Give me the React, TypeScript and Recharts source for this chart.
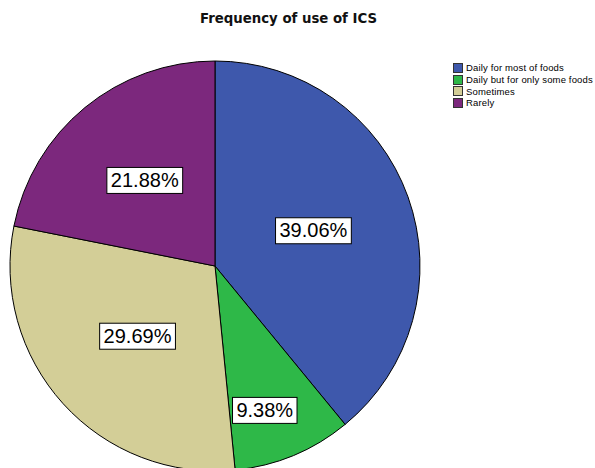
import { Cell, Pie, PieChart } from 'recharts';

const CATEGORIES = ['Daily for most of foods', 'Daily but for only some foods', 'Sometimes', 'Rarely'];
const PERCENTS = [39.06, 9.38, 29.69, 21.88];
const COLORS = ['#3e58ac', '#2eb848', '#d3ce97', '#7c287d'];
// label distance from centre (share of outer radius) and angle nudge in degrees
const LABEL_RADIUS = [0.51, 0.745, 0.51, 0.54];
const LABEL_NUDGE = [0, -3.5, 0, 0];

const PIE_DATA = CATEGORIES.map((name, i) => ({ name, value: PERCENTS[i] }));

const W = 595;
const H = 468;
const CX = 215;
const CY = 266;
const R = 205;
const RAD = Math.PI / 180;

type LabelProps = { cx: number; cy: number; midAngle: number; outerRadius: number; index: number; value: number };

const BoxLabel = ({ cx, cy, midAngle, outerRadius, index, value }: LabelProps) => {
  const r = outerRadius * LABEL_RADIUS[index];
  const a = midAngle + LABEL_NUDGE[index];
  const x = cx + r * Math.cos(-a * RAD);
  const y = cy + r * Math.sin(-a * RAD);
  const text = `${value.toFixed(2)}%`;
  const bw = text.length * 11.3 + 8;
  const bh = 26;
  return (
    <g>
      <rect x={x - bw / 2} y={y - bh / 2} width={bw} height={bh} fill="#fff" stroke="#000" strokeWidth={1} />
      <text x={x} y={y + 1} textAnchor="middle" dominantBaseline="middle" fontFamily="Arial, 'Liberation Sans'" fontSize={20} fill="#000">
        {text}
      </text>
    </g>
  );
};

const App = () => {
  return (
    <div style={{ position: 'absolute', left: 0, top: 0, width: W, height: H, background: '#fff', overflow: 'hidden' }}>
      <div
        style={{
          position: 'absolute',
          left: 0,
          top: 11,
          width: 577,
          textAlign: 'center',
          fontFamily: '"DejaVu Sans", sans-serif',
          fontSize: 13.3,
          fontWeight: 'bold',
          color: '#111',
        }}
      >
        Frequency of use of ICS
      </div>
      <PieChart width={W} height={H} margin={{ top: 0, right: 0, bottom: 0, left: 0 }}>
        <Pie
          data={PIE_DATA}
          dataKey="value"
          nameKey="name"
          cx={CX}
          cy={CY}
          outerRadius={R}
          startAngle={90}
          endAngle={-270}
          stroke="#000"
          strokeWidth={1}
          labelLine={false}
          label={BoxLabel as any}
          isAnimationActive={false}
        >
          {PIE_DATA.map((d, i) => (
            <Cell key={d.name} fill={COLORS[i]} />
          ))}
        </Pie>
      </PieChart>
      <div
        style={{
          position: 'absolute',
          left: 453,
          top: 62,
          fontFamily: 'Arial, "Liberation Sans", sans-serif',
          fontSize: 9.5,
          letterSpacing: 0.15,
          color: '#000',
          whiteSpace: 'nowrap',
        }}
      >
        {CATEGORIES.map((c, i) => (
          <div key={c} style={{ display: 'flex', alignItems: 'center', height: 11.7 }}>
            <span
              style={{
                display: 'inline-block',
                width: 8,
                height: 8,
                background: COLORS[i],
                border: '1px solid #333',
                marginRight: 3,
                flexShrink: 0,
              }}
            />
            {c}
          </div>
        ))}
      </div>
    </div>
  );
};

export default App;
